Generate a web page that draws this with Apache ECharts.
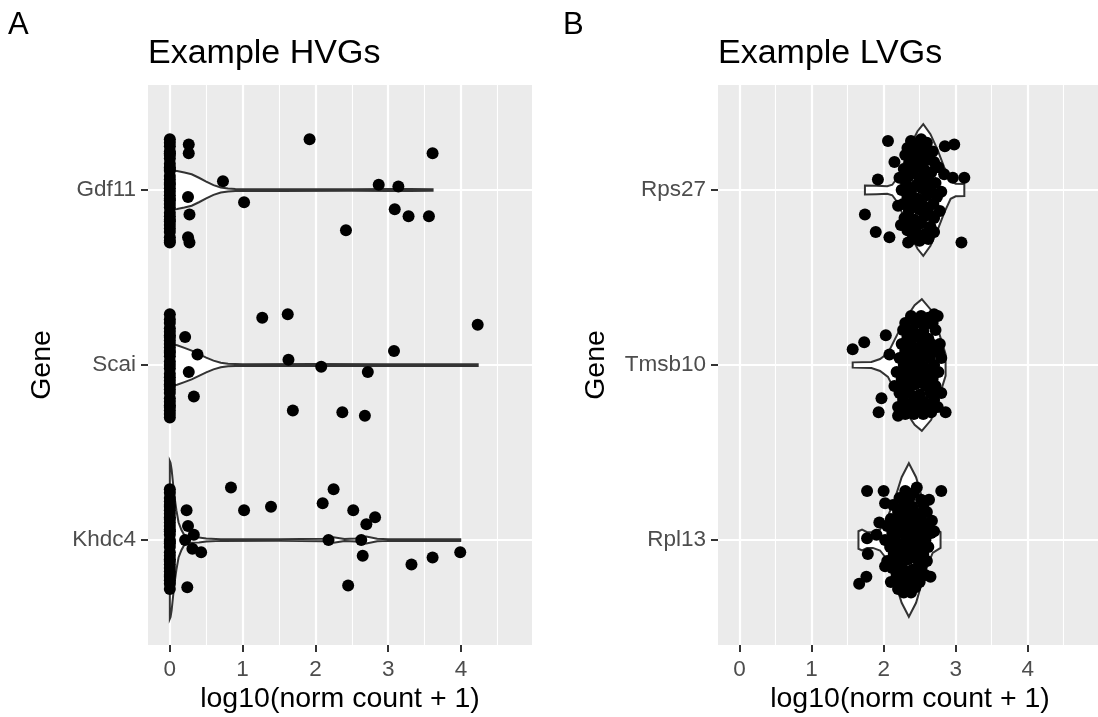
<!DOCTYPE html>
<html>
<head>
<meta charset="utf-8">
<script src="https://cdn.jsdelivr.net/npm/echarts@6/dist/echarts.min.js"></script>
<style>
  html, body { margin: 0; padding: 0; background: #fff; }
  #main { width: 1098px; height: 717px; }
</style>
</head>
<body>
<div id="main"></div>
<script>
// ticks
var majorX = [0, 1, 2, 3, 4];
var minorX = [0.5, 1.5, 2.5, 3.5, 4.5];
var geneRows = [1, 2, 3];

// panel A: highly variable genes (row position 3 = top)
var hvgGenes = ['Khdc4', 'Scai', 'Gdf11'];
// panel B: lowly variable genes
var lvgGenes = ['Rpl13', 'Tmsb10', 'Rps27'];

// cells with zero counts: only the vertical jitter is stored
var gdf11Zero = [0.29, 0.27, 0.25, 0.22, 0.2, 0.18, 0.15, 0.13, 0.11, 0.08, 0.06, 0.04, 0.01, -0.01, -0.03, -0.06,
  -0.08, -0.1, -0.13, -0.15, -0.17, -0.2, -0.22, -0.24, -0.27, -0.29, -0.3, 0.21, 0.03, -0.18, 0.12, -0.05];
var scaiZero = [0.29, 0.26, 0.24, 0.21, 0.19, 0.17, 0.14, 0.12, 0.1, 0.07, 0.05, 0.02, 0.0, -0.02, -0.05, -0.07,
  -0.09, -0.12, -0.14, -0.16, -0.19, -0.21, -0.23, -0.26, -0.28, -0.3, 0.16, -0.11, 0.08, -0.24];
var khdc4Zero = [0.29, 0.27, 0.24, 0.22, 0.2, 0.17, 0.15, 0.12, 0.1, 0.08, 0.05, 0.03, 0.0, -0.02, -0.04, -0.07,
  -0.09, -0.11, -0.14, -0.16, -0.18, -0.21, -0.23, -0.25, -0.28, 0.19, 0.06, -0.12, -0.2, 0.13, -0.01];

// non-zero cells: [log10 count, vertical jitter]
var gdf11Pts = [[0.26, 0.26], [0.26, 0.21], [0.73, 0.05], [0.25, -0.04], [1.02, -0.07], [0.27, -0.14], [0.25, -0.27],
  [0.27, -0.3], [1.92, 0.29], [2.42, -0.23], [2.87, 0.03], [3.14, 0.02], [3.09, -0.11], [3.28, -0.15], [3.56, -0.15], [3.61, 0.21]];
var scaiPts = [[0.21, 0.16], [0.38, 0.06], [0.26, -0.04], [0.33, -0.18], [1.27, 0.27], [1.62, 0.29], [1.63, 0.03],
  [1.69, -0.26], [2.08, -0.01], [2.37, -0.27], [2.72, -0.04], [2.68, -0.29], [3.08, 0.08], [4.23, 0.23]];
var khdc4Pts = [[0.23, 0.17], [0.25, 0.08], [0.33, 0.03], [0.21, 0.0], [0.31, -0.05], [0.43, -0.07], [0.24, -0.27],
  [0.84, 0.3], [1.02, 0.17], [1.39, 0.19], [2.1, 0.21], [2.25, 0.29], [2.18, 0.0], [2.52, 0.17], [2.7, 0.09],
  [2.82, 0.13], [2.63, 0.0], [2.65, -0.09], [2.45, -0.26], [3.32, -0.14], [3.61, -0.1], [3.99, -0.07]];

var rps27Pts = [[2.06, 0.28], [1.92, 0.06], [1.74, -0.14], [1.89, -0.24], [2.08, -0.27], [3.08, -0.3], [3.12, 0.07],
  [2.96, 0.07], [2.98, 0.26], [2.85, 0.25], [2.15, 0.16], [2.34, -0.3],
  [2.38, 0.28], [2.52, 0.29], [2.6, 0.27], [2.45, 0.26], [2.33, 0.24], [2.42, 0.23], [2.55, 0.24], [2.68, 0.22],
  [2.5, 0.21], [2.3, 0.2], [2.47, 0.19], [2.62, 0.2], [2.4, 0.18], [2.58, 0.17], [2.36, 0.16], [2.52, 0.15],
  [2.7, 0.16], [2.44, 0.14], [2.28, 0.12], [2.41, 0.11], [2.56, 0.12], [2.66, 0.1], [2.76, 0.13], [2.35, 0.08],
  [2.5, 0.07], [2.62, 0.08], [2.84, 0.09], [2.22, 0.07], [2.31, 0.04], [2.46, 0.03], [2.58, 0.05], [2.72, 0.04],
  [2.25, 0.0], [2.38, -0.01], [2.53, 0.01], [2.65, 0.0], [2.8, -0.01], [2.33, -0.04], [2.47, -0.05], [2.6, -0.03],
  [2.74, -0.04], [2.27, -0.08], [2.4, -0.07], [2.55, -0.09], [2.69, -0.08], [2.2, -0.09], [2.35, -0.12], [2.49, -0.11],
  [2.62, -0.13], [2.78, -0.12], [2.29, -0.16], [2.43, -0.17], [2.57, -0.15], [2.7, -0.16], [2.38, -0.2], [2.52, -0.19],
  [2.65, -0.21], [2.24, -0.2], [2.45, -0.24], [2.58, -0.25], [2.7, -0.24], [2.33, -0.23], [2.4, -0.28], [2.5, -0.29],
  [2.62, -0.28], [2.55, -0.27]];
var tmsb10Pts = [[1.57, 0.09], [1.73, 0.13], [2.03, 0.17], [2.08, 0.06], [1.97, -0.19], [1.93, -0.27], [2.2, -0.29],
  [2.86, -0.27], [2.7, 0.29], [2.77, 0.07],
  [2.38, 0.28], [2.52, 0.28], [2.62, 0.27], [2.75, 0.28], [2.3, 0.24], [2.45, 0.24], [2.58, 0.23], [2.68, 0.24],
  [2.27, 0.2], [2.4, 0.2], [2.55, 0.19], [2.72, 0.2], [2.33, 0.16], [2.48, 0.16], [2.62, 0.15], [2.25, 0.12],
  [2.38, 0.12], [2.52, 0.11], [2.66, 0.12], [2.78, 0.12], [2.3, 0.08], [2.44, 0.08], [2.58, 0.07], [2.7, 0.08],
  [2.22, 0.04], [2.36, 0.04], [2.5, 0.03], [2.64, 0.04], [2.8, 0.04], [2.28, 0.0], [2.42, 0.0], [2.56, -0.01],
  [2.7, 0.0], [2.18, -0.04], [2.33, -0.04], [2.47, -0.05], [2.61, -0.04], [2.76, -0.04], [2.25, -0.08], [2.4, -0.08],
  [2.54, -0.09], [2.68, -0.08], [2.15, -0.12], [2.3, -0.12], [2.44, -0.11], [2.58, -0.12], [2.72, -0.12],
  [2.22, -0.16], [2.36, -0.16], [2.5, -0.17], [2.65, -0.16], [2.8, -0.16], [2.27, -0.2], [2.42, -0.2], [2.56, -0.21],
  [2.7, -0.2], [2.2, -0.24], [2.34, -0.24], [2.48, -0.25], [2.62, -0.24], [2.75, -0.24], [2.3, -0.28], [2.42, -0.28],
  [2.55, -0.28], [2.66, -0.27]];
var rpl13Pts = [[1.77, 0.28], [2.0, 0.28], [2.8, 0.28], [2.63, 0.23], [2.46, 0.3], [1.77, 0.01], [1.9, 0.03],
  [1.78, -0.08], [1.76, -0.21], [1.66, -0.25], [2.65, -0.21], [2.7, 0.05], [2.67, 0.11], [1.94, 0.1], [2.02, 0.21],
  [2.02, -0.15],
  [2.3, 0.28], [2.42, 0.27], [2.22, 0.24], [2.36, 0.24], [2.52, 0.23], [2.13, 0.2], [2.28, 0.2], [2.4, 0.19],
  [2.55, 0.2], [2.2, 0.16], [2.34, 0.16], [2.47, 0.15], [2.6, 0.16], [2.1, 0.12], [2.25, 0.12], [2.38, 0.11],
  [2.52, 0.12], [2.05, 0.08], [2.18, 0.08], [2.31, 0.07], [2.44, 0.08], [2.58, 0.08], [2.12, 0.04], [2.26, 0.04],
  [2.4, 0.03], [2.53, 0.04], [2.66, 0.04], [2.02, 0.0], [2.16, 0.0], [2.3, -0.01], [2.44, 0.0], [2.58, 0.0],
  [2.09, -0.04], [2.22, -0.04], [2.36, -0.05], [2.5, -0.04], [2.62, -0.04], [2.14, -0.08], [2.28, -0.08],
  [2.42, -0.09], [2.55, -0.08], [2.05, -0.12], [2.2, -0.12], [2.34, -0.11], [2.48, -0.12], [2.6, -0.12],
  [2.12, -0.16], [2.26, -0.16], [2.4, -0.17], [2.52, -0.16], [2.18, -0.2], [2.32, -0.2], [2.45, -0.21], [2.58, -0.2],
  [2.1, -0.24], [2.24, -0.24], [2.38, -0.25], [2.5, -0.24], [2.2, -0.28], [2.32, -0.28], [2.44, -0.27],
  [2.28, -0.3], [2.38, -0.3]];

// violin outlines: [log10 count, half width]
var gdf11Violin = [[0, 0.112], [0.1, 0.108], [0.2, 0.1], [0.3, 0.09], [0.4, 0.07], [0.5, 0.048], [0.6, 0.028],
  [0.7, 0.014], [0.8, 0.008], [0.9, 0.006], [1.5, 0.005], [2.5, 0.005], [3.0, 0.006], [3.3, 0.006], [3.61, 0.005]];
var scaiViolin = [[0, 0.12], [0.1, 0.113], [0.2, 0.098], [0.3, 0.082], [0.4, 0.062], [0.5, 0.042], [0.6, 0.025],
  [0.7, 0.013], [0.8, 0.007], [1.0, 0.005], [2.0, 0.006], [3.0, 0.005], [4.23, 0.005]];
var khdc4Violin = [[0, 0.45], [0.01, 0.44], [0.025, 0.4], [0.045, 0.32], [0.07, 0.23], [0.09, 0.17], [0.12, 0.1],
  [0.16, 0.057], [0.21, 0.02], [0.3, 0.015], [0.4, 0.014], [0.5, 0.008], [0.7, 0.005], [1.5, 0.005], [2.1, 0.007],
  [2.25, 0.016], [2.4, 0.006], [2.55, 0.008], [2.7, 0.02], [2.85, 0.007], [3.0, 0.005], [3.99, 0.005]];
var rps27Violin = [[1.74, 0.026], [1.9, 0.024], [2.05, 0.022], [2.12, 0.03], [2.2, 0.075], [2.29, 0.165],
  [2.38, 0.262], [2.47, 0.336], [2.55, 0.376], [2.65, 0.319], [2.75, 0.228], [2.84, 0.131], [2.93, 0.05],
  [3.0, 0.036], [3.12, 0.034]];
var tmsb10Violin = [[1.57, 0.015], [1.83, 0.017], [1.95, 0.034], [2.06, 0.068], [2.15, 0.142], [2.29, 0.256],
  [2.43, 0.342], [2.53, 0.376], [2.66, 0.313], [2.77, 0.182], [2.86, 0.062]];
var rpl13Violin = [[1.65, 0.05], [1.7, 0.06], [1.77, 0.045], [1.85, 0.045], [1.95, 0.06], [2.02, 0.097],
  [2.15, 0.228], [2.25, 0.359], [2.35, 0.439], [2.45, 0.359], [2.57, 0.188], [2.68, 0.074], [2.79, 0.045]];

var FONT = "'Liberation Sans', Arial, Helvetica, sans-serif";

function toScatter(pts, zeros, row) {
  var out = [];
  (zeros || []).forEach(function (j) { out.push([0, row + j]); });
  pts.forEach(function (p) { out.push([p[0], row + p[1]]); });
  return out;
}

function violinSeries(profiles, xIdx, yIdx) {
  return {
    type: 'custom',
    xAxisIndex: xIdx,
    yAxisIndex: yIdx,
    silent: true,
    z: 2,
    data: [[0, 1], [0, 2], [0, 3]],
    renderItem: function (params, api) {
      var row = api.value(1);
      var prof = profiles[params.dataIndex];
      var pts = [];
      prof.forEach(function (p) { pts.push(api.coord([p[0], row + p[1]])); });
      for (var i = prof.length - 1; i >= 0; i--) pts.push(api.coord([prof[i][0], row - prof[i][1]]));
      return {
        type: 'polygon',
        shape: { points: pts },
        style: { fill: '#ffffff', stroke: '#333333', lineWidth: 2 }
      };
    }
  };
}

function pointSeries(data, xIdx, yIdx) {
  return {
    type: 'scatter',
    xAxisIndex: xIdx,
    yAxisIndex: yIdx,
    silent: true,
    z: 3,
    symbolSize: 12,
    itemStyle: { color: '#000000', opacity: 1 },
    data: data
  };
}

function majorXAxis(grid) {
  return {
    type: 'value', gridIndex: grid, min: -0.3, max: 4.976,
    axisLine: { show: false, onZero: false },
    axisTick: { show: true, customValues: majorX, length: 7, lineStyle: { color: '#333333', width: 2 } },
    axisLabel: { customValues: majorX, margin: 13, color: '#4D4D4D', fontSize: 22.5, fontFamily: FONT },
    splitLine: { show: true, lineStyle: { color: '#ffffff', width: 2.2 } }
  };
}
function minorXAxis(grid) {
  return {
    type: 'value', gridIndex: grid, min: -0.3, max: 4.976,
    axisLine: { show: false, onZero: false },
    axisTick: { show: false, customValues: minorX },
    axisLabel: { show: false, customValues: minorX },
    splitLine: { show: true, lineStyle: { color: '#ffffff', width: 1.1 } }
  };
}
function geneYAxis(grid, names) {
  return {
    type: 'value', gridIndex: grid, min: 0.4, max: 3.6, position: 'left',
    axisLine: { show: false, onZero: false },
    axisTick: { show: true, customValues: geneRows, length: 7, lineStyle: { color: '#333333', width: 2 } },
    axisLabel: {
      customValues: geneRows, margin: 12, color: '#4D4D4D', fontSize: 22.5, fontFamily: FONT,
      formatter: function (v) { return names[Math.round(v) - 1]; }
    },
    splitLine: { show: true, lineStyle: { color: '#ffffff', width: 2.2 } }
  };
}

function label(text, x, y, size, opts) {
  opts = opts || {};
  return {
    type: 'text', x: x, y: y, rotation: opts.rotation || 0, silent: true,
    style: {
      text: text, fill: opts.color || '#000000', font: size + 'px ' + FONT,
      align: opts.align || 'left', verticalAlign: 'middle'
    }
  };
}

var chart = echarts.init(document.getElementById('main'), null, { renderer: 'canvas' });
chart.setOption({
  animation: false,
  backgroundColor: '#ffffff',
  grid: [
    { left: 148, top: 85, width: 384, height: 560, show: true, backgroundColor: '#EBEBEB', borderWidth: 0 },
    { left: 718, top: 85, width: 384, height: 560, show: true, backgroundColor: '#EBEBEB', borderWidth: 0 }
  ],
  xAxis: [majorXAxis(0), minorXAxis(0), majorXAxis(1), minorXAxis(1)],
  yAxis: [geneYAxis(0, hvgGenes), geneYAxis(1, lvgGenes)],
  graphic: [
    label('A', 8, 25, 31),
    label('B', 563, 25, 31),
    label('Example HVGs', 148, 54, 34),
    label('Example LVGs', 718, 54, 34),
    label('Gene', 42, 365, 28.5, { rotation: Math.PI / 2, align: 'center' }),
    label('Gene', 596, 365, 28.5, { rotation: Math.PI / 2, align: 'center' }),
    label('log10(norm count + 1)', 340, 699, 28.5, { align: 'center' }),
    label('log10(norm count + 1)', 910, 699, 28.5, { align: 'center' })
  ],
  series: [
    violinSeries([khdc4Violin, scaiViolin, gdf11Violin], 0, 0),
    pointSeries(toScatter(gdf11Pts, gdf11Zero, 3), 0, 0),
    pointSeries(toScatter(scaiPts, scaiZero, 2), 0, 0),
    pointSeries(toScatter(khdc4Pts, khdc4Zero, 1), 0, 0),
    violinSeries([rpl13Violin, tmsb10Violin, rps27Violin], 2, 1),
    pointSeries(toScatter(rps27Pts, null, 3), 2, 1),
    pointSeries(toScatter(tmsb10Pts, null, 2), 2, 1),
    pointSeries(toScatter(rpl13Pts, null, 1), 2, 1)
  ]
});
</script>
</body>
</html>
